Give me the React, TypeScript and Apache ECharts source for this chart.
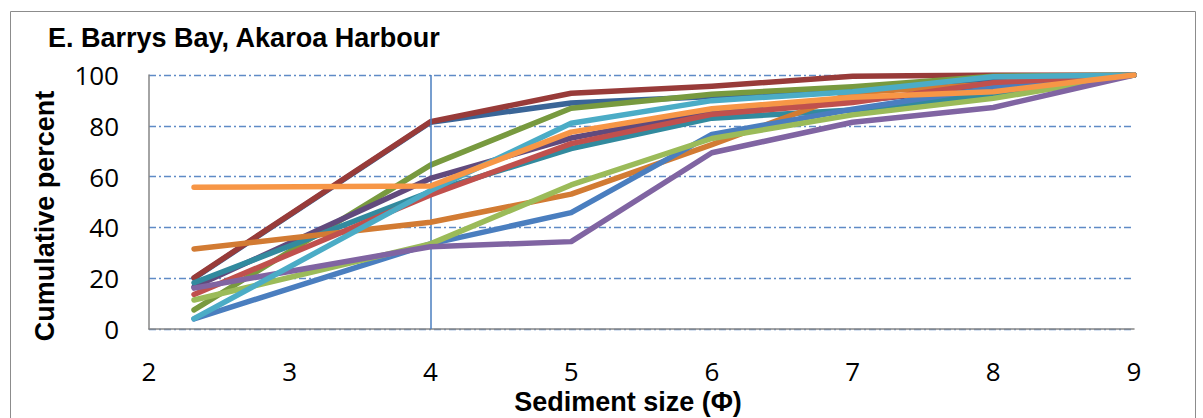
import React, { useEffect, useRef } from "react";
import * as echarts from "echarts";

// Sediment size (phi) at which cumulative percent was read
const sizes = [2.32, 4, 5, 6, 7, 8, 9];

// Cumulative percent per sample
const darkBlue = [20.0, 81.4, 89.0, 91.5, 94.0, 98.0, 100];
const darkRed = [20.2, 81.6, 92.8, 95.6, 99.5, 100, 100];
const olive = [7.5, 64.5, 86.9, 92.4, 95.4, 99.5, 100];
const darkPurple = [16.5, 59.3, 75.2, 85.6, 89.8, 95.0, 100];
const teal = [18.2, 54.0, 71.0, 83.0, 86.2, 92.5, 100];
const darkOrange = [31.5, 42.0, 53.1, 72.6, 93.0, 96.5, 100];
const blue = [4.0, 33.5, 45.8, 76.6, 86.5, 95.0, 100];
const red = [13.6, 52.8, 73.0, 84.5, 89.2, 97.0, 100];
const green = [11.4, 33.5, 56.7, 75.0, 84.3, 90.8, 100];
const purple = [16.1, 32.4, 34.4, 69.4, 81.4, 87.2, 100];
const aqua = [4.1, 54.5, 81.0, 89.9, 93.4, 99.3, 100];
const orange = [55.8, 56.3, 77.5, 86.7, 91.2, 93.4, 100];

const seriesList = [
  { name: "Sample 7", color: "#3A6597", values: darkBlue },
  { name: "Sample 8", color: "#983B39", values: darkRed },
  { name: "Sample 9", color: "#789A3F", values: olive },
  { name: "Sample 10", color: "#614A7D", values: darkPurple },
  { name: "Sample 11", color: "#328A9E", values: teal },
  { name: "Sample 12", color: "#D27B33", values: darkOrange },
  { name: "Sample 1", color: "#4A7EBF", values: blue },
  { name: "Sample 2", color: "#C0504D", values: red },
  { name: "Sample 3", color: "#9BBB59", values: green },
  { name: "Sample 4", color: "#8064A2", values: purple },
  { name: "Sample 5", color: "#4BACC6", values: aqua },
  { name: "Sample 6", color: "#F79646", values: orange },
];

const yTicks = [0, 20, 40, 60, 80, 100];
const xTicks = [2, 3, 4, 5, 6, 7, 8, 9];
const markerSize = 4;

const titleText = "E. Barrys Bay, Akaroa Harbour";
const yTitle = "Cumulative percent";
const xTitle = "Sediment size (Φ)";

export default function App() {
  const ref = useRef<HTMLDivElement>(null);

  useEffect(() => {
    if (!ref.current) return;
    const chart = echarts.init(ref.current, undefined, { renderer: "svg" });
    const tickFont = "'Open Sans', 'Liberation Sans', sans-serif";
    const boldFont = "'Liberation Sans', Arial, sans-serif";

    const series: any[] = seriesList.map((s, i) => ({
      type: "line",
      name: s.name,
      data: sizes.map((x, k) => [x, s.values[k]]),
      symbol: "none",
      showSymbol: false,
      smooth: false,
      lineStyle: { color: s.color, width: 5.5, cap: "round", join: "round" },
      itemStyle: { color: s.color },
      emphasis: { disabled: true },
      z: 2 + i,
      ...(i === 0
        ? {
            markLine: {
              silent: true,
              symbol: ["none", "none"],
              label: { show: false },
              lineStyle: { color: "#4A7EBF", width: 1.5, type: "solid" },
              data: [{ xAxis: xTicks[markerSize - 2] }],
            },
          }
        : {}),
    }));

    chart.setOption({
      animation: false,
      backgroundColor: "#ffffff",
      grid: { left: 149, right: 69, top: 75, bottom: 89 },
      xAxis: {
        type: "value",
        min: xTicks[0],
        max: xTicks[xTicks.length - 1],
        interval: 1,
        axisLine: { show: true, lineStyle: { color: "#868686", width: 1.5 } },
        axisTick: { show: false },
        splitLine: { show: false },
        axisLabel: {
          color: "#000",
          fontSize: 26,
          fontFamily: tickFont,
          margin: 29,
        },
      },
      yAxis: {
        type: "value",
        min: yTicks[0],
        max: yTicks[yTicks.length - 1],
        interval: 20,
        axisLine: { show: true, lineStyle: { color: "#868686", width: 1.5 } },
        axisTick: { show: false },
        splitLine: {
          show: true,
          lineStyle: { color: "#5F8BC6", width: 1.3, type: [7, 3, 2, 3] },
        },
        axisLabel: {
          color: "#000",
          fontSize: 26,
          fontFamily: tickFont,
          margin: 30,
        },
      },
      graphic: [
        {
          type: "rect",
          shape: { x: 10.5, y: 11.5, width: 1185, height: 430 },
          style: { fill: "none", stroke: "#8C8C8C", lineWidth: 1 },
          silent: true,
          z: -1,
        },
        {
          type: "text",
          x: 48,
          y: 38,
          style: {
            text: titleText,
            font: `bold 27px ${boldFont}`,
            fill: "#000",
            textAlign: "left",
            textVerticalAlign: "middle",
          },
        },
        {
          type: "text",
          x: 45,
          y: 216,
          rotation: Math.PI / 2,
          style: {
            text: yTitle,
            font: `bold 27px ${boldFont}`,
            fill: "#000",
            textAlign: "center",
            textVerticalAlign: "middle",
          },
        },
        {
          type: "text",
          x: 628,
          y: 402,
          style: {
            text: xTitle,
            font: `bold 27px ${boldFont}`,
            fill: "#000",
            textAlign: "center",
            textVerticalAlign: "middle",
          },
        },
      ],
      series,
    });

    return () => {
      chart.dispose();
    };
  }, []);

  return (
    <div
      ref={ref}
      style={{ position: "fixed", left: 0, top: 0, width: 1203, height: 418, background: "#fff" }}
    />
  );
}
